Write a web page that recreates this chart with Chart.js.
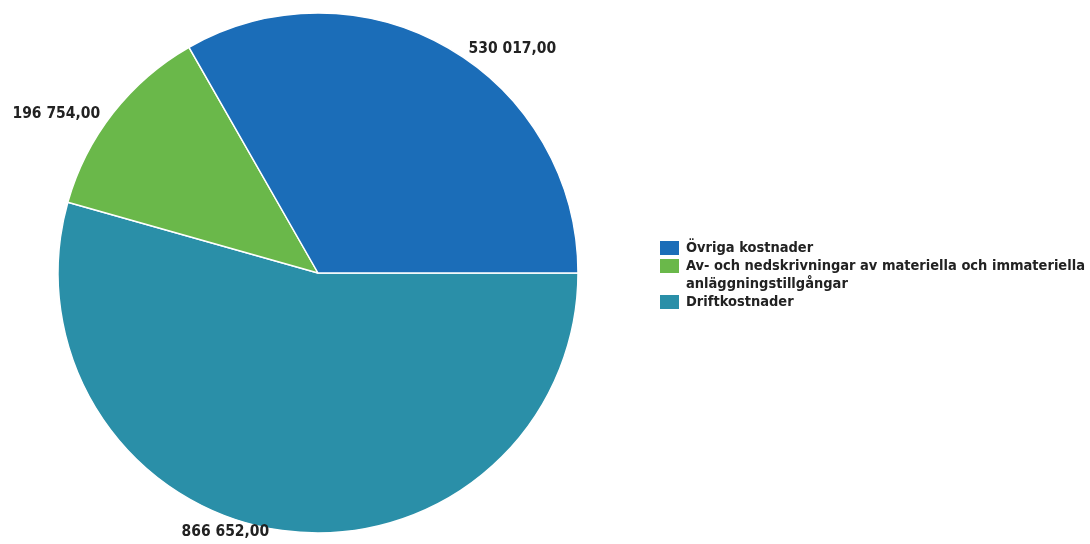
<!DOCTYPE html>
<html>
<head>
<meta charset="utf-8">
<script src="https://cdn.jsdelivr.net/npm/chart.js@4.4.1/dist/chart.umd.min.js"></script>
<style>
html,body{margin:0;padding:0;background:#fff;}
#wrap{width:1090px;height:544px;position:relative;}
</style>
</head>
<body>
<div id="wrap"><canvas id="c" width="1090" height="544"></canvas></div>
<script>
// Data (drawn clockwise from 3 o'clock; legend shown in reverse order)
const categories = [
  "Driftkostnader",
  ["Av- och nedskrivningar av materiella och immateriella", "anläggningstillgångar"],
  "Övriga kostnader"
];
const values = [866652, 196754, 530017];
const valueLabels = ["866 652,00", "196 754,00", "530 017,00"];
const colors = ["#2a8fa8", "#6ab84a", "#1b6db8"];

const FONT = '"DejaVu Sans Condensed", "DejaVu Sans", sans-serif';

const outsideLabels = {
  id: 'outsideLabels',
  afterDatasetsDraw(chart) {
    const ctx = chart.ctx;
    const meta = chart.getDatasetMeta(0);
    ctx.save();
    ctx.font = 'bold 15.5px ' + FONT;
    ctx.fillStyle = '#222';
    ctx.textBaseline = 'middle';
    meta.data.forEach((arc, i) => {
      const mid = (arc.startAngle + arc.endAngle) / 2;
      const r = arc.outerRadius;
      const px = arc.x + Math.cos(mid) * r;
      const py = arc.y + Math.sin(mid) * r;
      const right = Math.cos(mid) >= 0;
      ctx.textAlign = right ? 'left' : 'right';
      const dx = right ? 20 : -13;
      ctx.fillText(valueLabels[i], px + dx, py + 1);
    });
    ctx.restore();
  }
};

const customLegend = {
  id: 'customLegend',
  afterDraw(chart) {
    const ctx = chart.ctx;
    ctx.save();
    ctx.font = 'bold 14.5px ' + FONT;
    ctx.fillStyle = '#222';
    ctx.textBaseline = 'middle';
    ctx.textAlign = 'left';
    let y = 248;
    const lineH = 18;
    for (let i = categories.length - 1; i >= 0; i--) {
      ctx.fillStyle = colors[i];
      ctx.fillRect(660, y - 7, 19, 14);
      ctx.fillStyle = '#222';
      const lines = Array.isArray(categories[i]) ? categories[i] : [categories[i]];
      lines.forEach((t, k) => ctx.fillText(t, 686, y + k * lineH));
      y += lines.length * lineH;
    }
    ctx.restore();
  }
};

new Chart(document.getElementById('c'), {
  type: 'pie',
  data: {
    labels: categories,
    datasets: [{
      data: values,
      backgroundColor: colors,
      borderColor: '#ffffff',
      borderWidth: 1.5,
      hoverOffset: 0
    }]
  },
  options: {
    responsive: false,
    animation: false,
    rotation: 90,
    radius: 260,
    layout: { padding: { left: 58, right: 512, top: 13, bottom: 11 } },
    plugins: {
      legend: { display: false },
      tooltip: { enabled: false }
    }
  },
  plugins: [outsideLabels, customLegend]
});
</script>
</body>
</html>
